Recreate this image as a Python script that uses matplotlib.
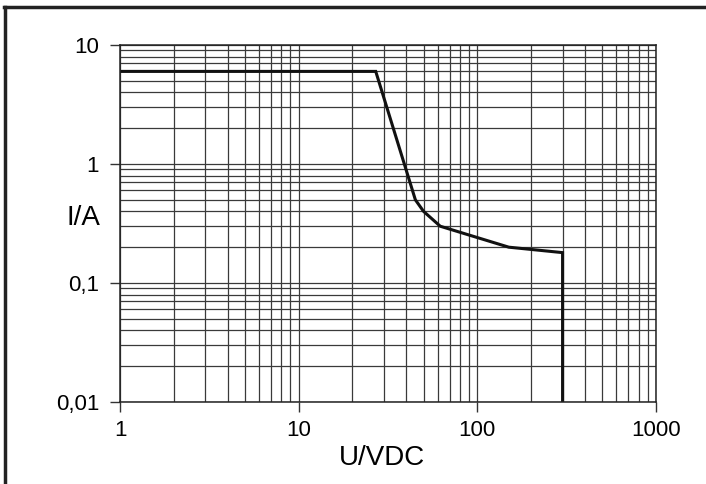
import matplotlib.pyplot as plt
from matplotlib.lines import Line2D
from matplotlib.ticker import FixedLocator, LogLocator, NullFormatter

plt.rcParams['font.family'] = ['Liberation Sans', 'DejaVu Sans']

# breaking capacity curve
u_vdc = [1, 27, 45, 50, 62, 150, 300, 300]
i_a = [6, 6, 0.5, 0.4, 0.3, 0.2, 0.18, 0.01]

x_ticks = [1, 10, 100, 1000]
x_labels = ['1', '10', '100', '1000']
y_ticks = [0.01, 0.1, 1, 10]
y_labels = ['0,01', '0,1', '1', '10']

W, H = 706, 484
fig = plt.figure(figsize=(W / 100, H / 100), dpi=100)
ax = fig.add_axes([120 / W, (H - 402) / H, 536 / W, 357 / H])

ax.set_xscale('log')
ax.set_yscale('log')
ax.set_xlim(1, 1000)
ax.set_ylim(0.01, 10)

ax.xaxis.set_major_locator(FixedLocator(x_ticks))
ax.set_xticklabels(x_labels)
ax.yaxis.set_major_locator(FixedLocator(y_ticks))
ax.set_yticklabels(y_labels)
ax.xaxis.set_minor_locator(LogLocator(base=10, subs=range(2, 10)))
ax.yaxis.set_minor_locator(LogLocator(base=10, subs=range(2, 10)))
ax.xaxis.set_minor_formatter(NullFormatter())
ax.yaxis.set_minor_formatter(NullFormatter())

ax.grid(True, which='both', color='#3a3a3a', linewidth=0.9)
ax.tick_params(which='major', length=7, width=1, color='#333333',
               labelsize=16, pad=6)
ax.tick_params(axis='y', which='major', pad=8)
ax.tick_params(which='minor', length=0)
for s in ax.spines.values():
    s.set_color('#222222')
    s.set_linewidth(1.1)

ax.plot(u_vdc, i_a, color='#111111', linewidth=2.2, solid_joinstyle='miter')

fig.text(100 / W, 1 - 218 / H, 'I/A', fontsize=20, ha='right', va='center')
fig.text(382 / W, 1 - 458 / H, 'U/VDC', fontsize=20, ha='center', va='center')

# frame on the top and left of the picture
fig.add_artist(Line2D([5 / W, 5 / W], [0, 1 - 7 / H], color='#222222',
                      linewidth=2.5, transform=fig.transFigure))
fig.add_artist(Line2D([4 / W, 1], [1 - 7 / H, 1 - 7 / H], color='#222222',
                      linewidth=2.5, transform=fig.transFigure))

fig.savefig('out.png', dpi=100)
